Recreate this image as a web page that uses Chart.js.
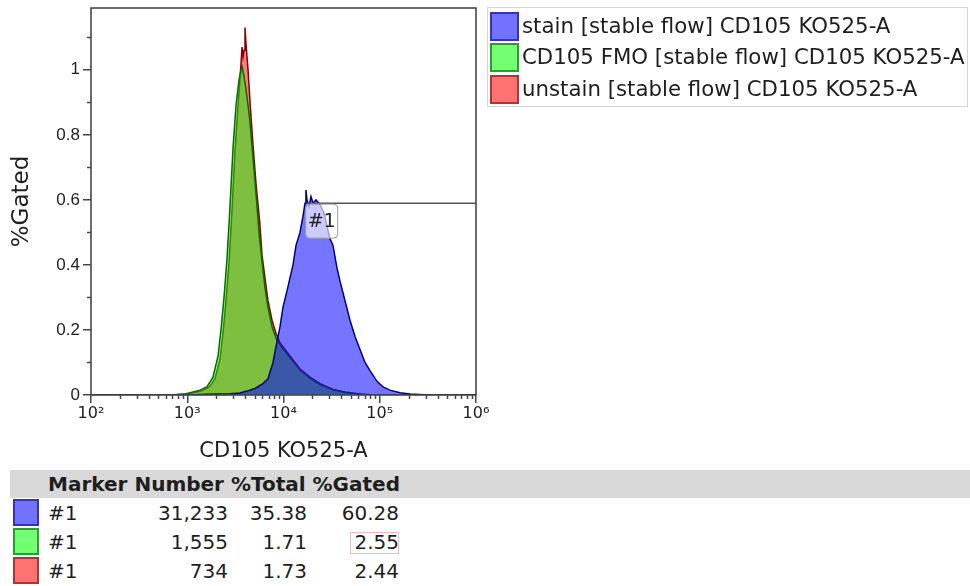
<!DOCTYPE html>
<html><head><meta charset="utf-8">
<script src="https://cdn.jsdelivr.net/npm/chart.js@4/dist/chart.umd.min.js"></script>
<style>
html,body{margin:0;padding:0;background:#fff;width:970px;height:586px;overflow:hidden;font-family:"DejaVu Sans",sans-serif;color:#1e1e1e}
#cv{position:absolute;left:0;top:0}
.legend{position:absolute;left:487px;top:7px;width:481px;height:100px;border:1px solid #d4d4d4;box-sizing:border-box}
.sw{position:absolute;box-sizing:border-box;border:2px solid}
.lt{position:absolute;font-size:21.3px;white-space:nowrap;line-height:28px}
.band{position:absolute;left:10px;top:470px;width:960px;height:28px;background:#d9d9d9}
.hd{position:absolute;top:470px;left:48px;font-weight:bold;font-size:20px;line-height:28px;white-space:nowrap}
.cell{position:absolute;font-size:20px;line-height:28px;white-space:nowrap}
.r{text-align:right}
</style>
</head><body>
<canvas id="cv" width="490" height="465"></canvas>
<div class="legend" id="legend"></div>
<div class="band"></div>
<div class="hd" id="hd"></div>
<div id="table"></div>
<script>
// ---------- data ----------
const seriesNames = ['stain [stable flow] CD105 KO525-A','CD105 FMO [stable flow] CD105 KO525-A','unstain [stable flow] CD105 KO525-A'];
const axisXTitle = 'CD105 KO525-A';
const axisYTitle = '%Gated';

const stainX = [100,1000,1600,2780,3530,4180,5060,6120,6900,7780,8560,9200,9880,10870,11680,12550,13490,14840,15940,16730,17100,17550,18410,19310,20260,21770,23950,26360,28310,30420,32680,35960,38640,43550,49090,55340,62350,70280,79210,93640,108100,127800,162300,206200,295200,422700,1000000];
const stainY = [0,0,0.002,0.004,0.006,0.012,0.02,0.035,0.05,0.1,0.165,0.21,0.27,0.32,0.36,0.4,0.46,0.5,0.55,0.59,0.63,0.6,0.58,0.61,0.59,0.6,0.585,0.56,0.52,0.48,0.46,0.39,0.35,0.29,0.23,0.18,0.14,0.1,0.075,0.042,0.025,0.015,0.007,0.003,0.001,0,0];

const fmoX = [100,660,950,1355,1600,1850,2090,2240,2410,2590,2780,2990,3210,3450,3620,3710,3890,4080,4280,4490,4820,5180,5570,5980,6420,6900,7600,8360,9200,10360,11680,14840,18860,23950,32680,43550,58050,79210,1000000];
const fmoY = [0,0,0.003,0.015,0.025,0.055,0.12,0.2,0.3,0.42,0.58,0.76,0.89,0.97,1.0,1.01,0.98,0.94,0.89,0.84,0.73,0.62,0.5,0.41,0.33,0.27,0.21,0.175,0.155,0.135,0.115,0.077,0.052,0.032,0.016,0.008,0.003,0,0];

const unstainX = [100,700,1000,1400,1700,1940,2190,2350,2530,2720,2920,3130,3370,3530,3710,3800,3890,3980,4080,4280,4490,4820,5180,5670,5980,6420,6900,7600,8360,9200,11680,14840,18860,23950,32680,43550,62350,89270,1000000];
const unstainY = [0,0,0.003,0.012,0.025,0.05,0.11,0.19,0.29,0.41,0.57,0.75,0.89,0.97,1.07,1.04,1.06,1.13,1.08,1.0,0.9,0.77,0.65,0.53,0.43,0.36,0.29,0.23,0.19,0.16,0.12,0.08,0.055,0.035,0.017,0.009,0.003,0,0];

const xMajorValues = [1e2,1e3,1e4,1e5,1e6];
const xTickLabels = ['10\u00B2','10\u00B3','10\u2074','10\u2075','10\u2076'];
const xMinorMultipliers = [2,3,4,5,6,7,8,9];
const yTickValues = [0,0.1,0.2,0.3,0.4,0.5,0.6,0.7,0.8,0.9,1.0,1.1];
const yTickLabels = ['0','','0.2','','0.4','','0.6','','0.8','','1',''];

const markerName = '#1';
const markerStart = 17400, markerEnd = 1e6, markerLevel = 0.59;

const tableHeader = 'Marker Number %Total %Gated';
const tableMarkers = ['#1','#1','#1'];
const tableNumbers = ['31,233','1,555','734'];
const tableTotals = ['35.38','1.71','1.73'];
const tableGated = ['60.28','2.55','2.44'];

// ---------- styles ----------
const fills = ['rgba(0,0,255,0.54)','rgba(0,255,0,0.5)','rgba(255,0,0,0.5)'];
const borders = ['#000080','#006e00','#8a0000'];
const swatchFill = ['#7272ff','#72ff72','#ff7272'];
const swatchBorder = ['#3434b8','#2f9a2f','#b03434'];

// ---------- html legend & table ----------
const lg = document.getElementById('legend');
seriesNames.forEach((n,i)=>{
  const top = [4,35,67][i];
  lg.insertAdjacentHTML('beforeend',
    `<div class="sw" style="left:2px;top:${top}px;width:29px;height:29px;background:${swatchFill[i]};border-color:${swatchBorder[i]}"></div>`+
    `<div class="lt" style="left:34px;top:${top}px">${n}</div>`);
});
document.getElementById('hd').textContent = tableHeader;
const tb = document.getElementById('table');
tableMarkers.forEach((m,i)=>{
  const top = [499,528,557][i];
  let html = `<div class="sw" style="left:13px;top:${top}px;width:26px;height:27px;background:${swatchFill[i]};border-color:${swatchBorder[i]}"></div>`+
    `<div class="cell" style="left:48px;top:${top}px">${m}</div>`+
    `<div class="cell r" style="left:0;width:228px;top:${top}px">${tableNumbers[i]}</div>`+
    `<div class="cell r" style="left:0;width:307px;top:${top}px">${tableTotals[i]}</div>`+
    `<div class="cell r" style="left:0;width:399px;top:${top}px">${tableGated[i]}</div>`;
  tb.insertAdjacentHTML('beforeend', html);
});
tb.insertAdjacentHTML('beforeend','<div style="position:absolute;left:350px;top:532px;width:49px;height:22px;border:1px solid #f0b8b8;box-sizing:border-box"></div>');

// ---------- chart ----------
const toPts = (xs,ys)=>xs.map((x,i)=>({x:x,y:ys[i]}));
const isMajorX = v => xMajorValues.some(m=>Math.abs(m-v)/m<1e-9);
const xTickValues = [];
for (let e=0;e<xMajorValues.length;e++){
  xTickValues.push(xMajorValues[e]);
  if (e<xMajorValues.length-1) xMinorMultipliers.forEach(k=>xTickValues.push(k*xMajorValues[e]));
}
const yIsMajor = v => yTickLabels[yTickValues.findIndex(t=>Math.abs(t-v)<1e-9)] !== '';

const overlay = {
  id:'overlay',
  afterDatasetsDraw(chart){
    const {ctx, chartArea:a, scales:{x,y}} = chart;
    ctx.save();
    // marker line
    const mx1 = x.getPixelForValue(markerStart), mx2 = x.getPixelForValue(markerEnd), my = y.getPixelForValue(markerLevel);
    ctx.strokeStyle='#555'; ctx.lineWidth=1.5;
    ctx.beginPath(); ctx.moveTo(mx1,my); ctx.lineTo(mx2,my); ctx.stroke();
    // marker label box
    const bx = mx1-1, by = my+1, bw = 32, bh = 34, r = 4;
    ctx.beginPath();
    ctx.roundRect(bx,by,bw,bh,r);
    ctx.fillStyle='rgba(255,255,255,0.62)'; ctx.fill();
    ctx.strokeStyle='#9a9a9a'; ctx.lineWidth=1; ctx.stroke();
    ctx.fillStyle='#222'; ctx.font='19px "DejaVu Sans"'; ctx.textAlign='center'; ctx.textBaseline='middle';
    ctx.fillText(markerName, bx+bw/2, by+bh/2+1);
    // frame
    ctx.strokeStyle='#474747'; ctx.lineWidth=1.6;
    ctx.strokeRect(a.left, a.top, a.right-a.left, a.bottom-a.top);
    // minor ticks
    ctx.lineWidth=1.5; ctx.strokeStyle='#474747';
    ctx.beginPath();
    xTickValues.forEach(v=>{ if(!isMajorX(v)){ const px=Math.round(x.getPixelForValue(v))+0.5; ctx.moveTo(px,a.bottom); ctx.lineTo(px,a.bottom+4);} });
    yTickValues.forEach(v=>{ if(!yIsMajor(v)){ const py=Math.round(y.getPixelForValue(v))+0.5; ctx.moveTo(a.left-4,py); ctx.lineTo(a.left,py);} });
    ctx.stroke();
    ctx.restore();
  }
};

new Chart(document.getElementById('cv'), {
  type:'line',
  data:{ datasets:[
    {label:seriesNames[0], data:toPts(stainX,stainY), borderColor:borders[0], backgroundColor:fills[0]},
    {label:seriesNames[1], data:toPts(fmoX,fmoY), borderColor:borders[1], backgroundColor:fills[1]},
    {label:seriesNames[2], data:toPts(unstainX,unstainY), borderColor:borders[2], backgroundColor:fills[2]}
  ].map(d=>Object.assign(d,{fill:'origin',borderWidth:1.5,pointRadius:0,tension:0}))},
  options:{
    responsive:false, animation:false, devicePixelRatio:1,
    layout:{padding:{left:0,top:8,right:14,bottom:0}},
    plugins:{legend:{display:false}, tooltip:{enabled:false}},
    scales:{
      x:{type:'logarithmic', min:1e2, max:1e6,
        afterBuildTicks: s=>{ s.ticks = xTickValues.map(v=>({value:v, major:isMajorX(v)})); },
        afterFit: s=>{ s.height = 70; s.paddingLeft = 0; s.paddingRight = 0; },
        border:{display:false},
        grid:{display:true, drawOnChartArea:false, drawTicks:true, tickLength:8, lineWidth:1.5,
          tickColor: c => (c.tick && isMajorX(c.tick.value)) ? '#474747' : 'rgba(0,0,0,0)'},
        ticks:{autoSkip:false, maxRotation:0, padding:1, color:'#222', font:{family:'DejaVu Sans', size:16},
          callback: v => { const i = xMajorValues.findIndex(m=>Math.abs(m-v)/m<1e-9); return i>=0 ? xTickLabels[i] : ''; }},
        title:{display:true, text:axisXTitle, color:'#1e1e1e', font:{family:'DejaVu Sans', size:21}, padding:{top:0,bottom:1}}
      },
      y:{type:'linear', min:0, max:1.19,
        afterBuildTicks: s=>{ s.ticks = yTickValues.map(v=>({value:v})); },
        afterFit: s=>{ s.width = 91; s.paddingTop = 0; s.paddingBottom = 0; },
        border:{display:false},
        grid:{display:true, drawOnChartArea:false, drawTicks:true, tickLength:8, lineWidth:1.5,
          tickColor: c => (c.tick && yIsMajor(c.tick.value)) ? '#474747' : 'rgba(0,0,0,0)'},
        ticks:{autoSkip:false, padding:3, color:'#222', font:{family:'Liberation Sans', size:17},
          callback: v => { const i = yTickValues.findIndex(t=>Math.abs(t-v)<1e-9); return i>=0 ? yTickLabels[i] : ''; }},
        title:{display:true, text:axisYTitle, color:'#1e1e1e', font:{family:'DejaVu Sans', size:23}, padding:{top:8,bottom:0}}
      }
    }
  },
  plugins:[overlay]
});
</script>
</body></html>
